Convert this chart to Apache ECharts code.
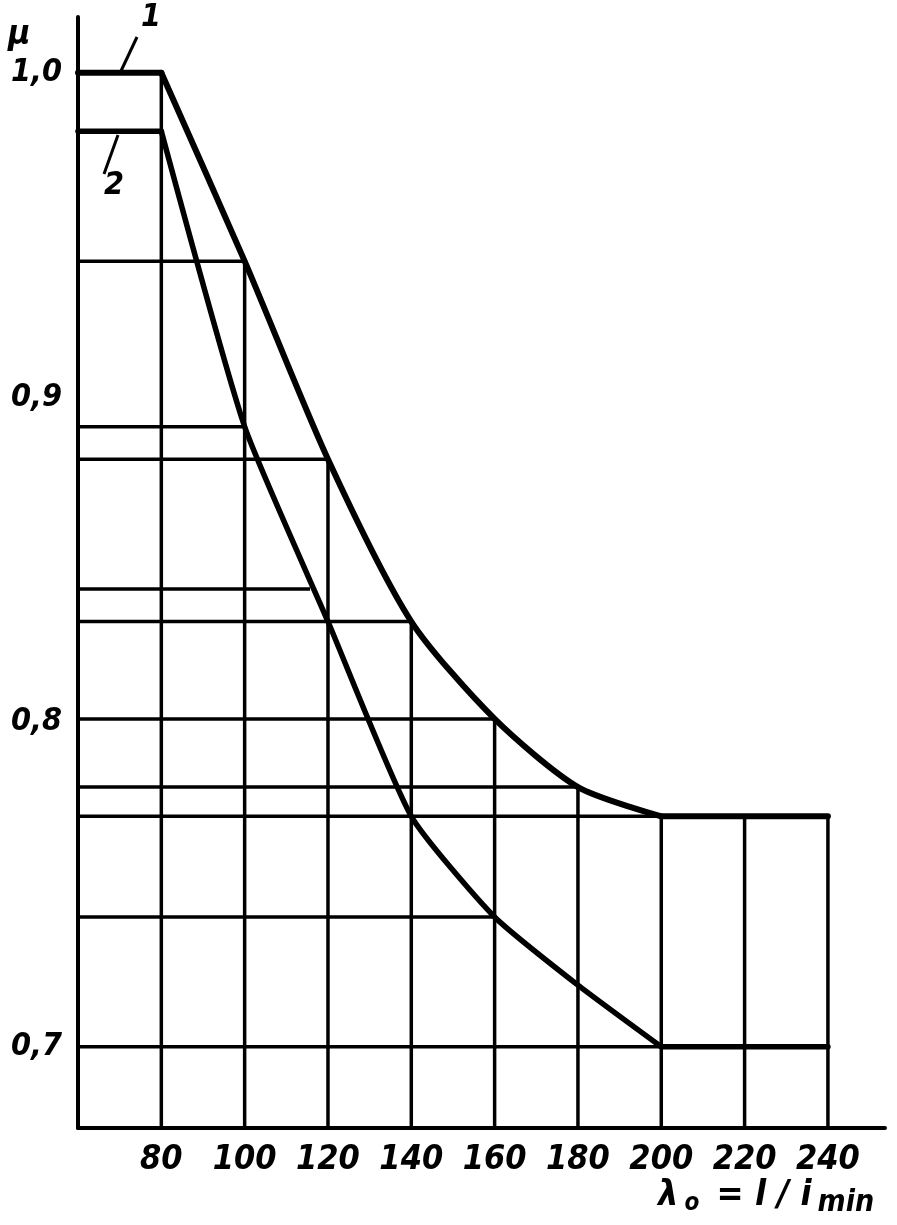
<!DOCTYPE html>
<html><head><meta charset="utf-8">
<script src="https://cdn.jsdelivr.net/npm/echarts@6/dist/echarts.min.js"></script>
<style>html,body{margin:0;padding:0;background:#fff}#c{width:897px;height:1225px}</style>
</head><body><div id="c"></div>
<script>
// ---- data ----
const xTickLabels = [80, 100, 120, 140, 160, 180, 200, 220, 240];
const yTickLabels = [0.7, 0.8, 0.9, 1.0];
const lambda = [60, 80, 100, 120, 140, 160, 180, 200, 220, 240];
const mu1 = [1.0, 1.0, 0.942, 0.881, 0.831, 0.801, 0.780, 0.771, 0.771, 0.771];
const mu2 = [0.982, 0.982, 0.891, 0.831, 0.771, 0.740, 0.719, 0.700, 0.700, 0.700];
// guide (construction) lines
const vGuideX = [80, 100, 120, 140, 160, 180, 200, 220, 240];
const vGuideTop = [1.0, 0.942, 0.881, 0.831, 0.801, 0.780, 0.771, 0.771, 0.771];
const hGuideY = [1.0, 0.982, 0.942, 0.891, 0.881, 0.841, 0.831, 0.801, 0.780, 0.771, 0.740, 0.700];
const hGuideEnd = [80, 80, 100, 100, 120, 115.7, 140, 160, 180, 240, 160, 240];

const X_MIN = 60, X_MAX = 253.7, Y_MIN = 0.675, Y_MAX = 1.0172;
const FONT = '"DejaVu Sans Condensed", "DejaVu Sans", sans-serif';

const chart = echarts.init(document.getElementById('c'), null, {renderer: 'canvas'});
const series = [];
const guideStyle = {color: '#000', width: 3.5};
vGuideX.forEach((x, i) => {
  series.push({type: 'line', silent: true, symbol: 'none', lineStyle: guideStyle,
    data: [[x, Y_MIN], [x, vGuideTop[i]]]});
});
hGuideY.forEach((y, i) => {
  series.push({type: 'line', silent: true, symbol: 'none', lineStyle: guideStyle,
    data: [[X_MIN, y], [hGuideEnd[i], y]]});
});
function curve(mu, w, sm) {
  const pts = lambda.map((l, i) => [l, mu[i]]);
  const i80 = lambda.indexOf(80), i200 = lambda.indexOf(200);
  series.push({type: 'line', silent: true, symbol: 'none', lineStyle: {color: '#000', width: w, cap: 'round'},
    data: pts.slice(0, i80 + 1)});
  series.push({type: 'line', silent: true, symbol: 'none', smooth: sm, lineStyle: {color: '#000', width: w, cap: 'round', join: 'round'},
    data: pts.slice(i80, i200 + 1)});
  series.push({type: 'line', silent: true, symbol: 'none', lineStyle: {color: '#000', width: w, cap: 'round'},
    data: pts.slice(i200)});
}
curve(mu1, 6, 0.25);
curve(mu2, 5.5, 0.18);

const labelStyle = {fontFamily: FONT, fontStyle: 'italic', fontWeight: 'bold', color: '#000'};
chart.setOption({
  animation: false,
  backgroundColor: '#fff',
  grid: {left: 78, right: 897 - 885, top: 17, bottom: 1225 - 1128, containLabel: false},
  xAxis: {
    type: 'value', min: X_MIN, max: X_MAX,
    axisLine: {show: true, lineStyle: {color: '#000', width: 4}},
    axisTick: {show: false}, splitLine: {show: false},
    axisLabel: Object.assign({customValues: xTickLabels, fontSize: 34, margin: 15,
      formatter: v => String(Math.round(v))}, labelStyle)
  },
  yAxis: {
    type: 'value', min: Y_MIN, max: Y_MAX,
    axisLine: {show: true, lineStyle: {color: '#000', width: 4}},
    axisTick: {show: false}, splitLine: {show: false},
    axisLabel: Object.assign({customValues: yTickLabels, fontSize: 32, margin: 16,
      formatter: v => v.toFixed(1).replace('.', ',')}, labelStyle)
  },
  series: series,
  graphic: [
    {type: 'text', left: 8, top: 18, style: {text: 'μ', font: 'italic bold 34px ' + FONT, fill: '#000'}},
    {type: 'text', left: 141, top: 2, style: {text: '1', font: 'italic bold 32px ' + FONT, fill: '#000'}},
    {type: 'line', shape: {x1: 121, y1: 71, x2: 137, y2: 37}, style: {stroke: '#000', lineWidth: 3}},
    {type: 'text', left: 104, top: 170, style: {text: '2', font: 'italic bold 32px ' + FONT, fill: '#000'}},
    {type: 'line', shape: {x1: 118, y1: 135, x2: 104, y2: 174}, style: {stroke: '#000', lineWidth: 3}},
    {type: 'text', left: 658, top: 1178, style: {
      text: '{m|λ}{s|o}{m| = l / i}{t|min}',
      rich: {
        m: {font: 'italic bold 36px ' + FONT, fill: '#000', padding: [0, 4, 0, 0]},
        s: {font: 'italic bold 24px ' + FONT, fill: '#000', padding: [16, 6, 0, 2]},
        t: {font: 'italic bold 30px ' + FONT, fill: '#000', padding: [14, 0, 0, 2]}
      }
    }}
  ]
});
</script></body></html>
